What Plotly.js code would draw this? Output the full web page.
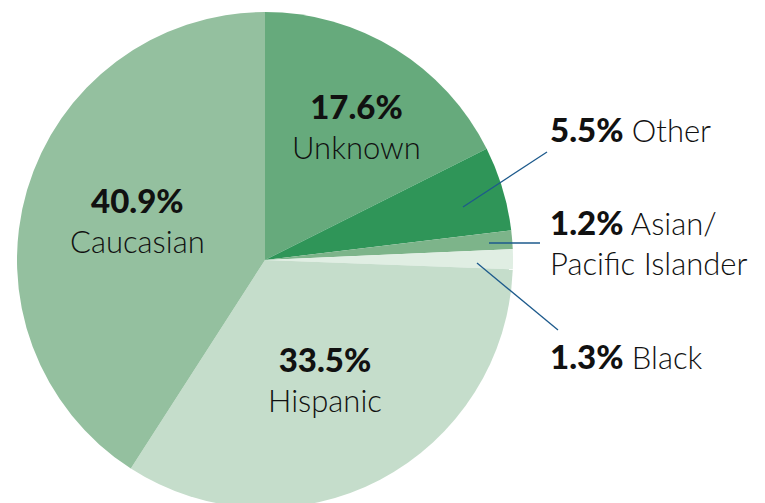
<!DOCTYPE html>
<html><head><meta charset="utf-8">
<script src="https://cdn.plot.ly/plotly-3.0.1.min.js"></script>
<style>html,body{margin:0;padding:0;overflow:hidden;background:#fff}</style>
</head><body><div id="chart"></div>
<script>
const labels = ["Unknown", "Other", "Asian/<br>Pacific Islander", "Black", "Hispanic", "Caucasian"];
const values = [17.6, 5.5, 1.2, 1.3, 33.5, 40.9];
const colors = ["#66aa7c", "#2f9558", "#7db48a", "#e0eee3", "#c5ddcb", "#94c09f"];

const W = 765, H = 520;
const px = x => x / W, py = y => 1 - y / H;

const trace = {
  type: "pie",
  labels: labels,
  values: values,
  sort: false,
  direction: "clockwise",
  rotation: 0,
  textinfo: "none",
  hoverinfo: "label+percent",
  marker: {colors: colors, line: {width: 0}},
  domain: {x: [px(17), px(513)], y: [py(508), py(12)]},
  showlegend: false
};

const fontBase = {family: "Lato, 'Open Sans', sans-serif", size: 31, color: "#111", weight: 300};
const pct = v => "<span style=\"font-weight:900;font-size:33px\">" + v.toFixed(1) + "%</span>";

// inside labels: [index, centre x, centre y]
const inside = [[0, 356, 126], [5, 137, 220], [4, 325, 379]];
// outside labels: [index, left x, centre y]
const outside = [[1, 548, 129], [2, 548, 242], [3, 548, 356]];

const annotations = [];
inside.forEach(([i, x, y]) => annotations.push({
  xref: "paper", yref: "paper", x: px(x), y: py(y), xanchor: "center", yanchor: "middle",
  text: pct(values[i]) + "<br>" + labels[i], showarrow: false, font: fontBase, align: "center"
}));
outside.forEach(([i, x, y]) => annotations.push({
  xref: "paper", yref: "paper", x: px(x), y: py(y), xanchor: "left", yanchor: "middle",
  text: pct(values[i]) + " " + labels[i], showarrow: false, font: fontBase, align: "left"
}));

const leaders = [[463, 207, 547, 152], [489, 243, 540, 243], [477, 263, 558, 330]];
const shapes = leaders.map(([x0, y0, x1, y1]) => ({
  type: "line", xref: "paper", yref: "paper",
  x0: px(x0), y0: py(y0), x1: px(x1), y1: py(y1),
  line: {color: "#1d5a8c", width: 1.3}
}));

Plotly.newPlot("chart", [trace], {
  width: W, height: H,
  margin: {l: 0, r: 0, t: 0, b: 0},
  paper_bgcolor: "#fff",
  annotations: annotations,
  shapes: shapes
}, {displayModeBar: false, staticPlot: true});
</script></body></html>
